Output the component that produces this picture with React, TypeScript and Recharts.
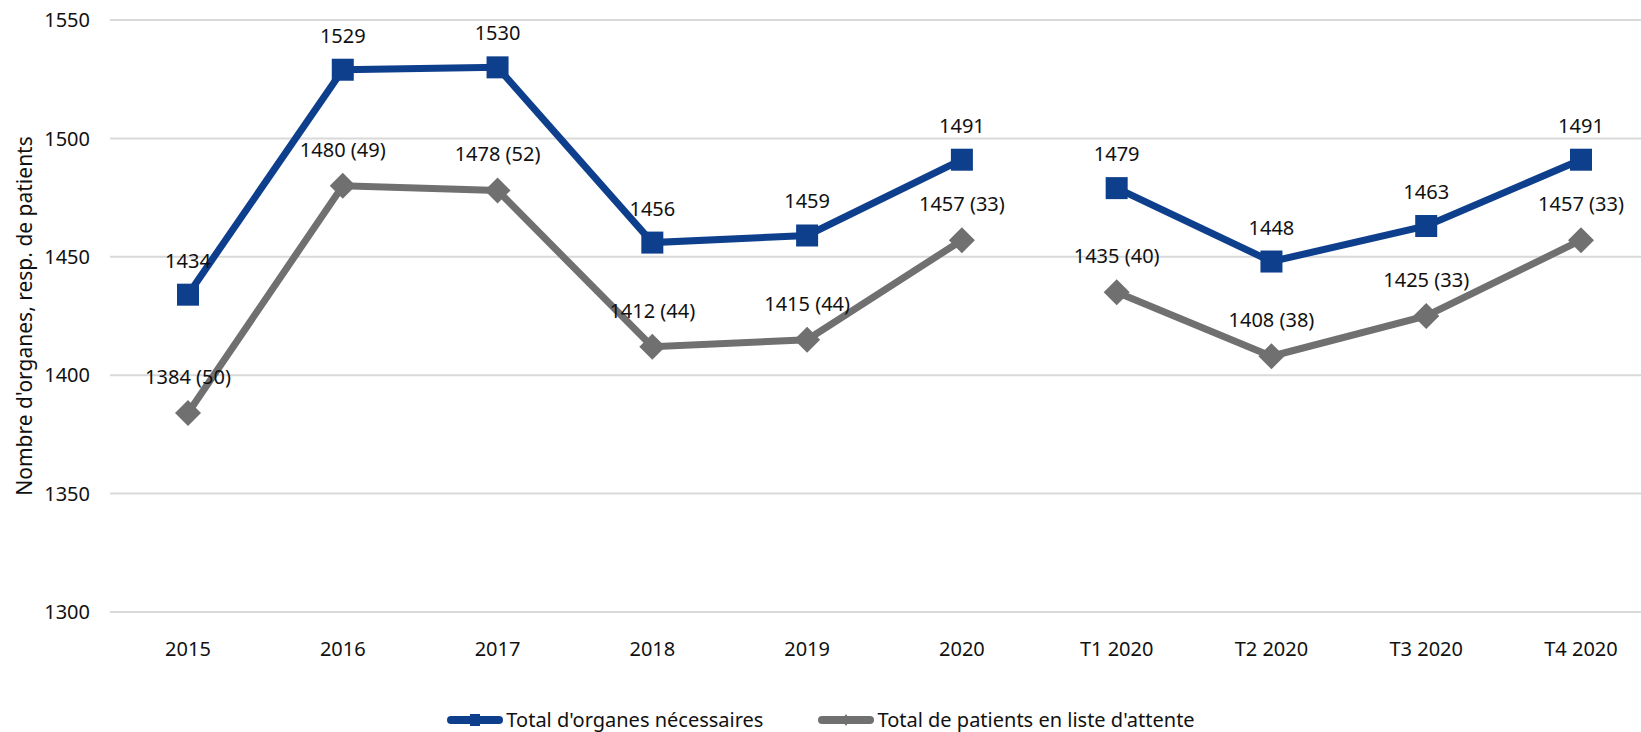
import React from 'react'
import { LineChart, Line, XAxis, YAxis, CartesianGrid, Legend, LabelList } from 'recharts'

const categories = ['2015', '2016', '2017', '2018', '2019', '2020', 'T1 2020', 'T2 2020', 'T3 2020', 'T4 2020']
const organesNecessaires = [1434, 1529, 1530, 1456, 1459, 1491, 1479, 1448, 1463, 1491]
const patientsAttente = [1384, 1480, 1478, 1412, 1415, 1457, 1435, 1408, 1425, 1457]
const patientsEntreParentheses = [50, 49, 52, 44, 44, 33, 40, 38, 33, 33]
const yTicks = [1300, 1350, 1400, 1450, 1500, 1550]

// the first 6 points are years, the rest are quarters: the line breaks in between
const nbAnnees = 6

const BLUE = '#0E3F8D'
const GRAY = '#707070'
const FONT = '"Noto Sans", Roboto, sans-serif'
const TEXT = '#111'

const data = categories.map((cat, i) => {
  const annee = i < nbAnnees
  const label = `${patientsAttente[i]} (${patientsEntreParentheses[i]})`
  return {
    cat,
    organesA: annee ? organesNecessaires[i] : null,
    organesT: annee ? null : organesNecessaires[i],
    patientsA: annee ? patientsAttente[i] : null,
    patientsT: annee ? null : patientsAttente[i],
    labelA: annee ? label : null,
    labelT: annee ? null : label,
  }
})

const SquareDot = (props: any) => {
  const { cx, cy, value, index } = props
  if (cx == null || cy == null || value == null) return <g key={'s' + index} />
  return <rect key={'s' + index} x={cx - 11} y={cy - 11} width={22} height={22} fill={BLUE} />
}

const DiamondDot = (props: any) => {
  const { cx, cy, value, index } = props
  if (cx == null || cy == null || value == null) return <g key={'d' + index} />
  const r = 13
  return (
    <polygon
      key={'d' + index}
      points={`${cx},${cy - r} ${cx + r},${cy} ${cx},${cy + r} ${cx - r},${cy}`}
      fill={GRAY}
    />
  )
}

const makeLabel = (dy: number) => (props: any) => {
  const vb = props.viewBox || {}
  const x = vb.x ?? props.x
  const y = vb.y ?? props.y
  if (props.value == null || x == null || y == null) return null
  return (
    <text x={x} y={y - dy} textAnchor="middle" fontFamily={FONT} fontSize={20} fill={TEXT}>
      {props.value}
    </text>
  )
}

const XTick = (props: any) => {
  const { x, y, payload } = props
  return (
    <text x={x} y={y + 36} textAnchor="middle" fontFamily={FONT} fontSize={20} fill={TEXT}>
      {payload.value}
    </text>
  )
}

const LegendIcon = ({ color, shape }: { color: string; shape: 'square' | 'diamond' }) => (
  <svg width={58} height={20} style={{ display: 'block' }}>
    <line x1={5} y1={10} x2={53} y2={10} stroke={color} strokeWidth={8} strokeLinecap="round" />
    {shape === 'square' ? (
      <rect x={24} y={4} width={10} height={12} fill={color} />
    ) : (
      <polygon points="29,4 33,10 29,16 25,10" fill={color} />
    )}
  </svg>
)

const renderLegend = () => (
  <div
    style={{
      display: 'flex',
      justifyContent: 'center',
      alignItems: 'center',
      gap: 54,
      fontFamily: FONT,
      fontSize: 20,
      color: TEXT,
    }}
  >
    <div style={{ display: 'flex', alignItems: 'center' }}>
      <LegendIcon color={BLUE} shape="square" />
      <span style={{ marginLeft: 2 }}>Total d'organes nécessaires</span>
    </div>
    <div style={{ display: 'flex', alignItems: 'center' }}>
      <LegendIcon color={GRAY} shape="diamond" />
      <span style={{ marginLeft: 2 }}>Total de patients en liste d'attente</span>
    </div>
  </div>
)

const YLabel = (props: any) => {
  const vb = props.viewBox || {}
  const cx = 32
  const cy = (vb.y ?? 20) + (vb.height ?? 592) / 2
  return (
    <text
      x={cx}
      y={cy}
      transform={`rotate(-90, ${cx}, ${cy})`}
      textAnchor="middle"
      fontFamily={FONT}
      fontSize={21}
      fill={TEXT}
    >
      Nombre d'organes, resp. de patients
    </text>
  )
}

export default function App() {
  return (
    <div style={{ position: 'absolute', left: 0, top: 0, width: 1641, height: 732, background: '#fff' }}>
      <LineChart width={1641} height={732} data={data} margin={{ top: 20, right: 0, left: 0, bottom: 60 }}>
        <CartesianGrid vertical={false} stroke="#d9d9d9" strokeWidth={2} />
        <XAxis
          dataKey="cat"
          axisLine={false}
          tickLine={false}
          height={60}
          interval={0}
          padding={{ left: 78, right: 60 }}
          tick={<XTick />}
        />
        <YAxis
          domain={[1300, 1550]}
          ticks={yTicks}
          width={110}
          axisLine={false}
          tickLine={false}
          tickSize={0}
          tickMargin={20}
          tick={{ fontFamily: FONT, fontSize: 20, fill: TEXT }}
          label={<YLabel />}
        />
        <Legend
          layout="horizontal"
          verticalAlign="middle"
          align="center"
          wrapperStyle={{ top: 706, left: 0, width: 1641 }}
          content={renderLegend}
        />
        <Line dataKey="patientsA" stroke={GRAY} strokeWidth={7} dot={DiamondDot} activeDot={false} isAnimationActive={false}>
          <LabelList dataKey="labelA" content={makeLabel(29)} />
        </Line>
        <Line dataKey="patientsT" stroke={GRAY} strokeWidth={7} dot={DiamondDot} activeDot={false} isAnimationActive={false}>
          <LabelList dataKey="labelT" content={makeLabel(29)} />
        </Line>
        <Line dataKey="organesA" stroke={BLUE} strokeWidth={7} dot={SquareDot} activeDot={false} isAnimationActive={false}>
          <LabelList dataKey="organesA" content={makeLabel(27)} />
        </Line>
        <Line dataKey="organesT" stroke={BLUE} strokeWidth={7} dot={SquareDot} activeDot={false} isAnimationActive={false}>
          <LabelList dataKey="organesT" content={makeLabel(27)} />
        </Line>
      </LineChart>
    </div>
  )
}
